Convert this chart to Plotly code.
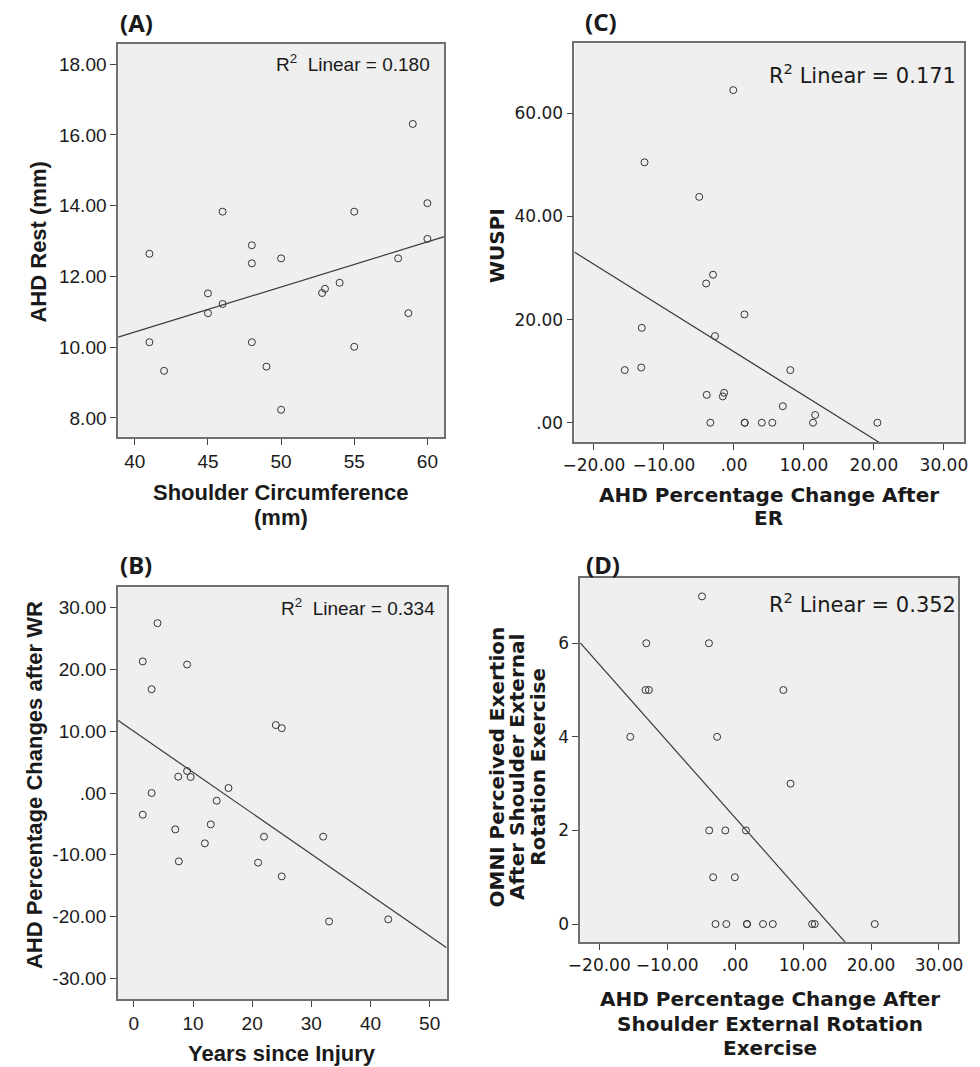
import numpy as np
import plotly.graph_objects as go

W, H = 980, 1067

# ---------------- data ----------------
# (A) Shoulder circumference vs AHD rest
a_x = [41.0, 46.0, 48.0, 48.0, 50.0, 55.0, 59.0, 60.0, 60.0, 58.0, 45.0, 45.0,
       46.0, 41.0, 42.0, 48.0, 49.0, 50.0, 52.8, 53.0, 54.0, 55.0, 58.7]
a_y = [12.64, 13.83, 12.88, 12.37, 12.51, 13.83, 16.31, 14.07, 13.06, 12.51, 11.52, 10.96,
       11.22, 10.14, 9.33, 10.14, 9.45, 8.23, 11.53, 11.65, 11.82, 10.01, 10.96]

# (B) Years since injury vs AHD percentage change after WR
b_x = [4.0, 1.5, 9.0, 3.0, 24.0, 25.0, 9.0, 7.5, 9.6, 16.0, 3.0, 14.0,
       1.5, 7.0, 13.0, 12.0, 22.0, 32.0, 7.6, 21.0, 25.0, 33.0, 43.0]
b_y = [27.5, 21.3, 20.8, 16.8, 11.0, 10.5, 3.56, 2.64, 2.59, 0.81, 0.0, -1.25,
       -3.51, -5.89, -5.08, -8.15, -7.07, -7.07, -11.07, -11.28, -13.5, -20.8, -20.46]

# (C) AHD percentage change after ER vs WUSPI
c_x = [-0.1, -12.78, -4.96, -2.99, -3.97, 1.5, -13.16, -2.71, -15.6, -13.25, 8.05, -3.89,
       -1.40, -1.59, 6.98, 11.6, -3.37, 1.54, 1.54, 3.98, 5.48, 11.3, 20.5]
c_y = [64.5, 50.5, 43.8, 28.7, 27.0, 21.0, 18.4, 16.8, 10.2, 10.7, 10.2, 5.4,
       5.8, 5.1, 3.2, 1.5, 0, 0, 0, 0, 0, 0, 0]

# (D) AHD percentage change after shoulder ER exercise vs OMNI perceived exertion
d_x = [-4.88, -13.08, -3.86, -13.2, -12.7, 7.09, -15.44, -2.66, 8.15, -3.82, -1.45, 1.59,
       -3.24, -0.05, -2.89, -1.30, 1.74, 1.74, 4.1, 5.54, 11.33, 11.72, 20.55]
d_y = [7, 6, 6, 5, 5, 5, 4, 4, 3, 2, 2, 2,
       1, 1, 0, 0, 0, 0, 0, 0, 0, 0, 0]

r2_labels = {"A": "0.180", "B": "0.334", "C": "0.171", "D": "0.352"}

a_xticks = [40, 45, 50, 55, 60]
a_xtext = ["40", "45", "50", "55", "60"]
a_yticks = [8, 10, 12, 14, 16, 18]
a_ytext = ["8.00", "10.00", "12.00", "14.00", "16.00", "18.00"]

b_xticks = [0, 10, 20, 30, 40, 50]
b_xtext = ["0", "10", "20", "30", "40", "50"]
b_yticks = [-30, -20, -10, 0, 10, 20, 30]
b_ytext = ["-30.00", "-20.00", "-10.00", ".00", "10.00", "20.00", "30.00"]

cd_xticks = [-20, -10, 0, 10, 20, 30]
cd_xtext = ["\u221220.00", "\u221210.00", ".00", "10.00", "20.00", "30.00"]
c_yticks = [0, 20, 40, 60]
c_ytext = [".00", "20.00", "40.00", "60.00"]
d_yticks = [0, 2, 4, 6]
d_ytext = ["0", "2", "4", "6"]

# ---------------- layout geometry (pixels) ----------------
def px_x(v):
    return v / W

def px_y(v):
    return 1 - v / H

panels = {
    "A": dict(px=(108, 440, 44, 437), xr=[38.86, 61.16], yr=[7.46, 18.57]),
    "C": dict(px=(572.3, 969, 42.7, 442.3), xr=[-22.8, 32.9], yr=[-3.8, 73.7]),
    "B": dict(px=(107.7, 442.3, 586.7, 999.3), xr=[-2.71, 52.87], yr=[-33.4, 33.4]),
    "D": dict(px=(578.3, 962.7, 577.7, 942.3), xr=[-22.8, 32.8], yr=[-0.39, 7.40]),
}
order = ["A", "C", "B", "D"]
data = {"A": (a_x, a_y), "B": (b_x, b_y), "C": (c_x, c_y), "D": (d_x, d_y)}
ticks = {
    "A": (a_xticks, a_xtext, a_yticks, a_ytext),
    "B": (b_xticks, b_xtext, b_yticks, b_ytext),
    "C": (cd_xticks, cd_xtext, c_yticks, c_ytext),
    "D": (cd_xticks, cd_xtext, d_yticks, d_ytext),
}

ARIAL = "Liberation Sans, Arial, sans-serif"
LUCIDA = "DejaVu Sans, sans-serif"
TXT = "#1a1a1a"

fig = go.Figure()
layout = dict(
    width=W, height=H, margin=dict(l=0, r=0, t=0, b=0),
    paper_bgcolor="white", plot_bgcolor="#efefef", showlegend=False,
)

annotations = []
for i, name in enumerate(order, start=1):
    p = panels[name]
    x0, x1, yt, yb = p["px"]
    xs, ys = data[name]
    xid = "x" if i == 1 else f"x{i}"
    yid = "y" if i == 1 else f"y{i}"
    tfont = ARIAL if name in ("A", "B") else LUCIDA
    tsize = 19 if name in ("A", "B") else 17
    xt, xtt, yt_, ytt = ticks[name]

    fig.add_trace(go.Scatter(
        x=xs, y=ys, mode="markers", xaxis=xid, yaxis=yid,
        marker=dict(symbol="circle-open", size=7, color="#333333", line=dict(width=1)),
        hoverinfo="skip"))
    slope, intercept = np.polyfit(np.array(xs, float), np.array(ys, float), 1)
    lx = np.array(p["xr"])
    fig.add_trace(go.Scatter(
        x=lx, y=slope * lx + intercept, mode="lines", xaxis=xid, yaxis=yid,
        line=dict(color="#3a3a3a", width=1.2), hoverinfo="skip"))

    axcommon = dict(showgrid=False, zeroline=False, showline=True, mirror=True,
                    linecolor="#707070", linewidth=1.6, ticks="outside", ticklen=6,
                    tickcolor="#444444", tickwidth=1,
                    tickfont=dict(family=tfont, size=tsize, color=TXT))
    layout["xaxis" if i == 1 else f"xaxis{i}"] = dict(
        axcommon, domain=[px_x(x0), px_x(x1)], range=p["xr"],
        anchor=yid, tickmode="array", tickvals=xt, ticktext=xtt)
    layout["yaxis" if i == 1 else f"yaxis{i}"] = dict(
        axcommon, domain=[px_y(yb), px_y(yt)], range=p["yr"],
        anchor=xid, tickmode="array", tickvals=yt_, ticktext=ytt)

def ann(text, x, y, size, family, bold=False, angle=0, xanchor="center", yanchor="middle"):
    t = f"<b>{text}</b>" if bold else text
    annotations.append(dict(
        text=t, x=px_x(x), y=px_y(y), xref="paper", yref="paper",
        showarrow=False, textangle=angle, xanchor=xanchor, yanchor=yanchor,
        font=dict(family=family, size=size, color=TXT)))

# panel letters
PANEL_FONT = "Noto Sans, Open Sans, sans-serif"
ann("(A)", 108, 22, 24, PANEL_FONT, True, xanchor="left")
ann("(C)", 581, 21, 24, PANEL_FONT, True, xanchor="left")
ann("(B)", 108, 564, 24, PANEL_FONT, True, xanchor="left")
ann("(D)", 582, 564, 24, PANEL_FONT, True, xanchor="left")

# R^2 annotations
ann(f"R<sup>2</sup>  Linear = {r2_labels['A']}", 427, 63, 19, ARIAL, xanchor="right")
ann(f"R<sup>2</sup>  Linear = {r2_labels['B']}", 433, 607, 19, ARIAL, xanchor="right")
ann(f"R<sup>2</sup> Linear = {r2_labels['C']}", 963, 74, 21, LUCIDA, xanchor="right")
ann(f"R<sup>2</sup> Linear = {r2_labels['D']}", 963, 603, 21, LUCIDA, xanchor="right")

# axis titles (A, B)
ann("Shoulder Circumference", 274, 492, 22, ARIAL, True)
ann("(mm)", 274, 517, 22, ARIAL, True)
ann("AHD Rest (mm)", 27, 242, 22, ARIAL, True, angle=-90)
ann("Years since Injury", 275, 1053, 22, ARIAL, True)
ann("AHD Percentage Changes after WR", 22.5, 785, 22, ARIAL, True, angle=-90)

# axis titles (C, D)
ann("AHD Percentage Change After", 770, 495, 20, LUCIDA, True)
ann("ER", 770, 518, 20, LUCIDA, True)
ann("WUSPI", 493.5, 245, 20, LUCIDA, True, angle=-90)
ann("AHD Percentage Change After", 771, 999, 20, LUCIDA, True)
ann("Shoulder External Rotation", 771, 1024, 20, LUCIDA, True)
ann("Exercise", 771, 1048, 20, LUCIDA, True)
ann("OMNI Perceived Exertion", 494, 767, 20, LUCIDA, True, angle=-90)
ann("After Shoulder External", 514, 767, 20, LUCIDA, True, angle=-90)
ann("Rotation Exercise", 535, 767, 20, LUCIDA, True, angle=-90)

layout["annotations"] = annotations
fig.update_layout(**layout)
fig.write_html("out.html")
